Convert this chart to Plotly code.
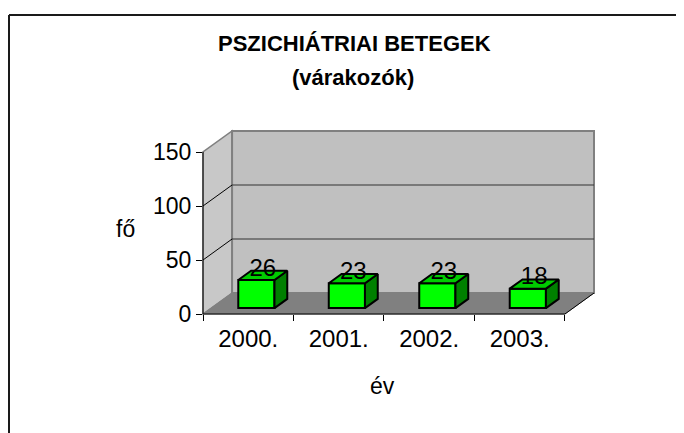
import plotly.graph_objects as go

# ---- data ----
categories = ["2000.", "2001.", "2002.", "2003."]
values = [26, 23, 23, 18]
y_ticks = [0, 50, 100, 150]
title_line1 = "PSZICHIÁTRIAI BETEGEK"
title_line2 = "(várakozók)"
x_title = "év"
y_title = "fő"

# ---- 3D geometry (in data units) ----
Y_MAX = 150
DX, DY = 0.3213, 19.44      # depth offset of the back wall
F1, F2 = 0.28, 0.72         # bar front / back depth fraction
BAR_W = 0.40
X0, X1 = -0.5, len(categories) - 0.5
XR = [X0, X1 + DX]
YR = [0, Y_MAX + DY]

# page has an 8px body margin: figure drawn at (8, 8)
OFF = 8
W, H = 684 - OFF, 433 - OFF
ML, MT = 203 - OFF, 131 - OFF
MR, MB = W - (594 - OFF), H - (314 - OFF)
PW, PH = W - ML - MR, H - MT - MB


def px(x):  # data x -> paper
    return (x - XR[0]) / (XR[1] - XR[0])


def py(y):  # data y -> paper
    return (y - YR[0]) / (YR[1] - YR[0])


def ppx(p):  # page pixel x -> paper
    return (p - OFF - ML) / PW


def ppy(p):  # page pixel y -> paper
    return (H - MB - (p - OFF)) / PH


def path(pts):
    return "M " + " L ".join(f"{px(a)},{py(b)}" for a, b in pts) + " Z"


def seg(p0, p1, color, width):
    return dict(type="line", xref="paper", yref="paper", layer="below",
                x0=px(p0[0]), y0=py(p0[1]), x1=px(p1[0]), y1=py(p1[1]),
                line=dict(color=color, width=width))


shapes = []
# left wall
shapes.append(dict(type="path", xref="paper", yref="paper", layer="below",
                   path=path([(X0, 0), (X0 + DX, DY), (X0 + DX, Y_MAX + DY), (X0, Y_MAX)]),
                   fillcolor="#c8c8c8", line=dict(color="#808080", width=1.5)))
# back wall
shapes.append(dict(type="path", xref="paper", yref="paper", layer="below",
                   path=path([(X0 + DX, DY), (X1 + DX, DY), (X1 + DX, Y_MAX + DY), (X0 + DX, Y_MAX + DY)]),
                   fillcolor="#c0c0c0", line=dict(color="#808080", width=2)))
# floor
shapes.append(dict(type="path", xref="paper", yref="paper", layer="below",
                   path=path([(X0, 0), (X1, 0), (X1 + DX, DY), (X0 + DX, DY)]),
                   fillcolor="#808080", line=dict(color="#808080", width=1)))
# gridlines
for v in y_ticks[1:-1]:
    shapes.append(seg((X0, v), (X0 + DX, v + DY), "#000000", 1))
    shapes.append(seg((X0 + DX, v + DY), (X1 + DX, v + DY), "#333333", 1))
# front edges
shapes.append(seg((X0, 0), (X0, Y_MAX), "#000000", 1))
shapes.append(seg((X0, 0), (X1, 0), "#000000", 1))
shapes.append(seg((X1, 0), (X1 + DX, DY), "#000000", 1))
# outer frame (cropped chart border)
shapes.append(dict(type="line", xref="paper", yref="paper", x0=ppx(9), y0=ppy(15), x1=ppx(700), y1=ppy(15),
                   line=dict(color="#1a1a1a", width=2)))
shapes.append(dict(type="line", xref="paper", yref="paper", x0=ppx(9), y0=ppy(15), x1=ppx(9), y1=ppy(450),
                   line=dict(color="#1a1a1a", width=2)))

xs = list(range(len(categories)))
base = F1 * DY
ddx, ddy = (F2 - F1) * DX, (F2 - F1) * DY

top_x, top_y, side_x, side_y = [], [], [], []
lab_x, lab_y = [], []
for i, v in zip(xs, values):
    xc = i + F1 * DX
    xl, xr = xc - BAR_W / 2, xc + BAR_W / 2
    t = base + v
    top_x += [xl, xr, xr + ddx, xl + ddx, xl, None]
    top_y += [t, t, t + ddy, t + ddy, t, None]
    side_x += [xr, xr + ddx, xr + ddx, xr, xr, None]
    side_y += [base, base + ddy, t + ddy, t, base, None]
    lab_x.append(xc + ddx / 2)
    lab_y.append(t + 9.5)

fig = go.Figure()
fig.add_trace(go.Bar(x=[i + F1 * DX for i in xs], y=values, base=base, width=BAR_W,
                     marker=dict(color="#00ff00", line=dict(color="#000000", width=2)),
                     hoverinfo="skip"))
fig.add_trace(go.Scatter(x=side_x, y=side_y, mode="lines", fill="toself", fillcolor="#008000",
                         line=dict(color="#000000", width=2), hoverinfo="skip"))
fig.add_trace(go.Scatter(x=top_x, y=top_y, mode="lines", fill="toself", fillcolor="#00cc00",
                         line=dict(color="#000000", width=2), hoverinfo="skip"))
fig.add_trace(go.Scatter(x=lab_x, y=lab_y, mode="text", text=[str(v) for v in values],
                         textposition="middle center",
                         textfont=dict(family="Liberation Sans, Arial", size=24, color="#000000"),
                         hoverinfo="skip", cliponaxis=False))

FONT = "Liberation Sans, Arial"
annotations = [
    dict(text=f"<b>{title_line1}</b>", x=ppx(354), y=ppy(44)),
    dict(text=f"<b>{title_line2}</b>", x=ppx(353), y=ppy(78)),
    dict(text=y_title, x=ppx(125), y=ppy(229), size=23),
    dict(text=x_title, x=ppx(382), y=ppy(386), size=23),
]
ann = []
for a in annotations:
    ann.append(dict(text=a["text"], x=a["x"], y=a["y"], xref="paper", yref="paper",
                    xanchor="center", yanchor="middle", showarrow=False,
                    font=dict(family=FONT, size=a.get("size", 22), color="#000000")))

fig.update_layout(
    width=W, height=H,
    margin=dict(l=ML, r=MR, t=MT, b=MB, pad=0),
    paper_bgcolor="#ffffff", plot_bgcolor="rgba(0,0,0,0)",
    showlegend=False,
    shapes=shapes,
    annotations=ann,
    xaxis=dict(range=XR, tickvals=xs, ticktext=categories, ticks="", showgrid=False,
               zeroline=False, showline=False, ticklabelstandoff=8,
               tickfont=dict(family=FONT, size=24, color="#000000"),
               minor=dict(tickvals=[i - 0.5 for i in range(len(categories) + 1)],
                          ticks="outside", ticklen=6, tickcolor="#000000", tickwidth=1,
                          showgrid=False)),
    yaxis=dict(range=YR, tickvals=y_ticks, ticks="outside", ticklen=6, tickcolor="#000000",
               showgrid=False, zeroline=False, showline=False,
               tickfont=dict(family=FONT, size=23, color="#000000")),
)

fig.write_html("out.html")
